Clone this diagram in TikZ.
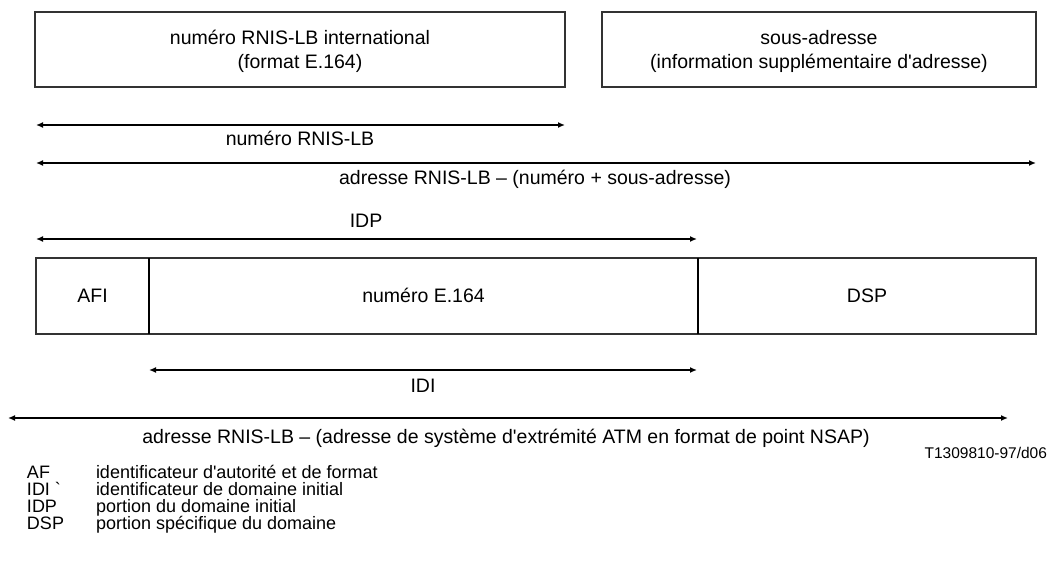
\documentclass[tikz,border=0pt]{standalone}
\usepackage{fontspec}
\setmainfont{Liberation Sans}[Ligatures=TeXOff]
\usetikzlibrary{arrows.meta}
\newcommand{\fsmain}{\fontsize{19.5pt}{23pt}\selectfont}
\newcommand{\fslegend}{\fontsize{18pt}{20pt}\selectfont}
\newcommand{\fssmall}{\fontsize{15.5pt}{18pt}\selectfont}
\begin{document}
\begin{tikzpicture}[x=1pt,y=-1pt,
  txt/.style={inner sep=0pt, outer sep=0pt, text height=14pt, text depth=0pt, font=\fsmain},
  legtxt/.style={inner sep=0pt, outer sep=0pt, text height=12.9pt, text depth=0pt, font=\fslegend, anchor=west},
  smalltxt/.style={inner sep=0pt, outer sep=0pt, text height=11.1pt, text depth=0pt, font=\fssmall},
  boxnode/.style={draw=black!80, line width=1.1pt, inner sep=0pt, outer sep=0pt},
  dimline/.style={line width=1.8pt, {Latex[length=7pt,width=6pt]}-{Latex[length=7pt,width=6pt]}},
  divider/.style={line width=1.6pt}]
\useasboundingbox (0,0) rectangle (1050,561);

% top boxes
\node[boxnode, minimum width=530pt, minimum height=75pt] (nb1) at (300,49.5) {};
\node[boxnode, minimum width=434pt, minimum height=75pt] (nb2) at (819,49.5) {};
\node[txt] (t1a) at (300,38) {numéro RNIS-LB international};
\node[txt] (t1b) at (300,62) {(format E.164)};
\node[txt] (t2a) at (819,38) {sous-adresse};
\node[txt] (t2b) at (819,62) {(information supplémentaire d'adresse)};

% arrows top
\coordinate (a1l) at (36,125);
\coordinate (a1r) at (565,125);
\draw[dimline] (a1l) -- (a1r);
\node[txt] (l1) at (300,139) {numéro RNIS-LB};

\coordinate (a2l) at (36,163);
\coordinate (a2r) at (1036,163);
\draw[dimline] (a2l) -- (a2r);
\node[txt] (l2) at (535,178) {adresse RNIS-LB – (numéro + sous-adresse)};

\node[txt] (l3) at (366,221) {IDP};
\coordinate (a3l) at (36,239);
\coordinate (a3r) at (697,239);
\draw[dimline] (a3l) -- (a3r);

% NSAP boxes
\node[boxnode, minimum width=113pt, minimum height=76pt] (afi) at (92.5,296) {};
\node[boxnode, minimum width=549pt, minimum height=76pt] (e164) at (423.5,296) {};
\node[boxnode, minimum width=338pt, minimum height=76pt] (dsp) at (867,296) {};
\draw[divider] (afi.north east) -- (afi.south east);
\draw[divider] (e164.north east) -- (e164.south east);
\node[txt] (tafi) at (92.5,296) {AFI};
\node[txt] (te164) at (423.5,296) {numéro E.164};
\node[txt] (tdsp) at (867,296) {DSP};

% IDI
\coordinate (a4l) at (149,370);
\coordinate (a4r) at (697,370);
\draw[dimline] (a4l) -- (a4r);
\node[txt] (l4) at (423,385) {IDI};

% bottom
\coordinate (a5l) at (8,418);
\coordinate (a5r) at (1008,418);
\draw[dimline] (a5l) -- (a5r);
\node[txt] (l5) at (506,436) {adresse RNIS-LB – (adresse de système d'extrémité ATM en format de point NSAP)};
\node[smalltxt, anchor=east] (ref) at (1047,453) {T1309810-97/d06};

% legend
\node[legtxt] (k1) at (27,472) {AF};
\node[legtxt] (k2) at (27,489) {IDI `};
\node[legtxt] (k3) at (27,506) {IDP};
\node[legtxt] (k4) at (27,523) {DSP};
\node[legtxt] (d1) at (96,472) {identificateur d'autorité et de format};
\node[legtxt] (d2) at (96,489) {identificateur de domaine initial};
\node[legtxt] (d3) at (96,506) {portion du domaine initial};
\node[legtxt] (d4) at (96,523) {portion spécifique du domaine};
\end{tikzpicture}
\end{document}
